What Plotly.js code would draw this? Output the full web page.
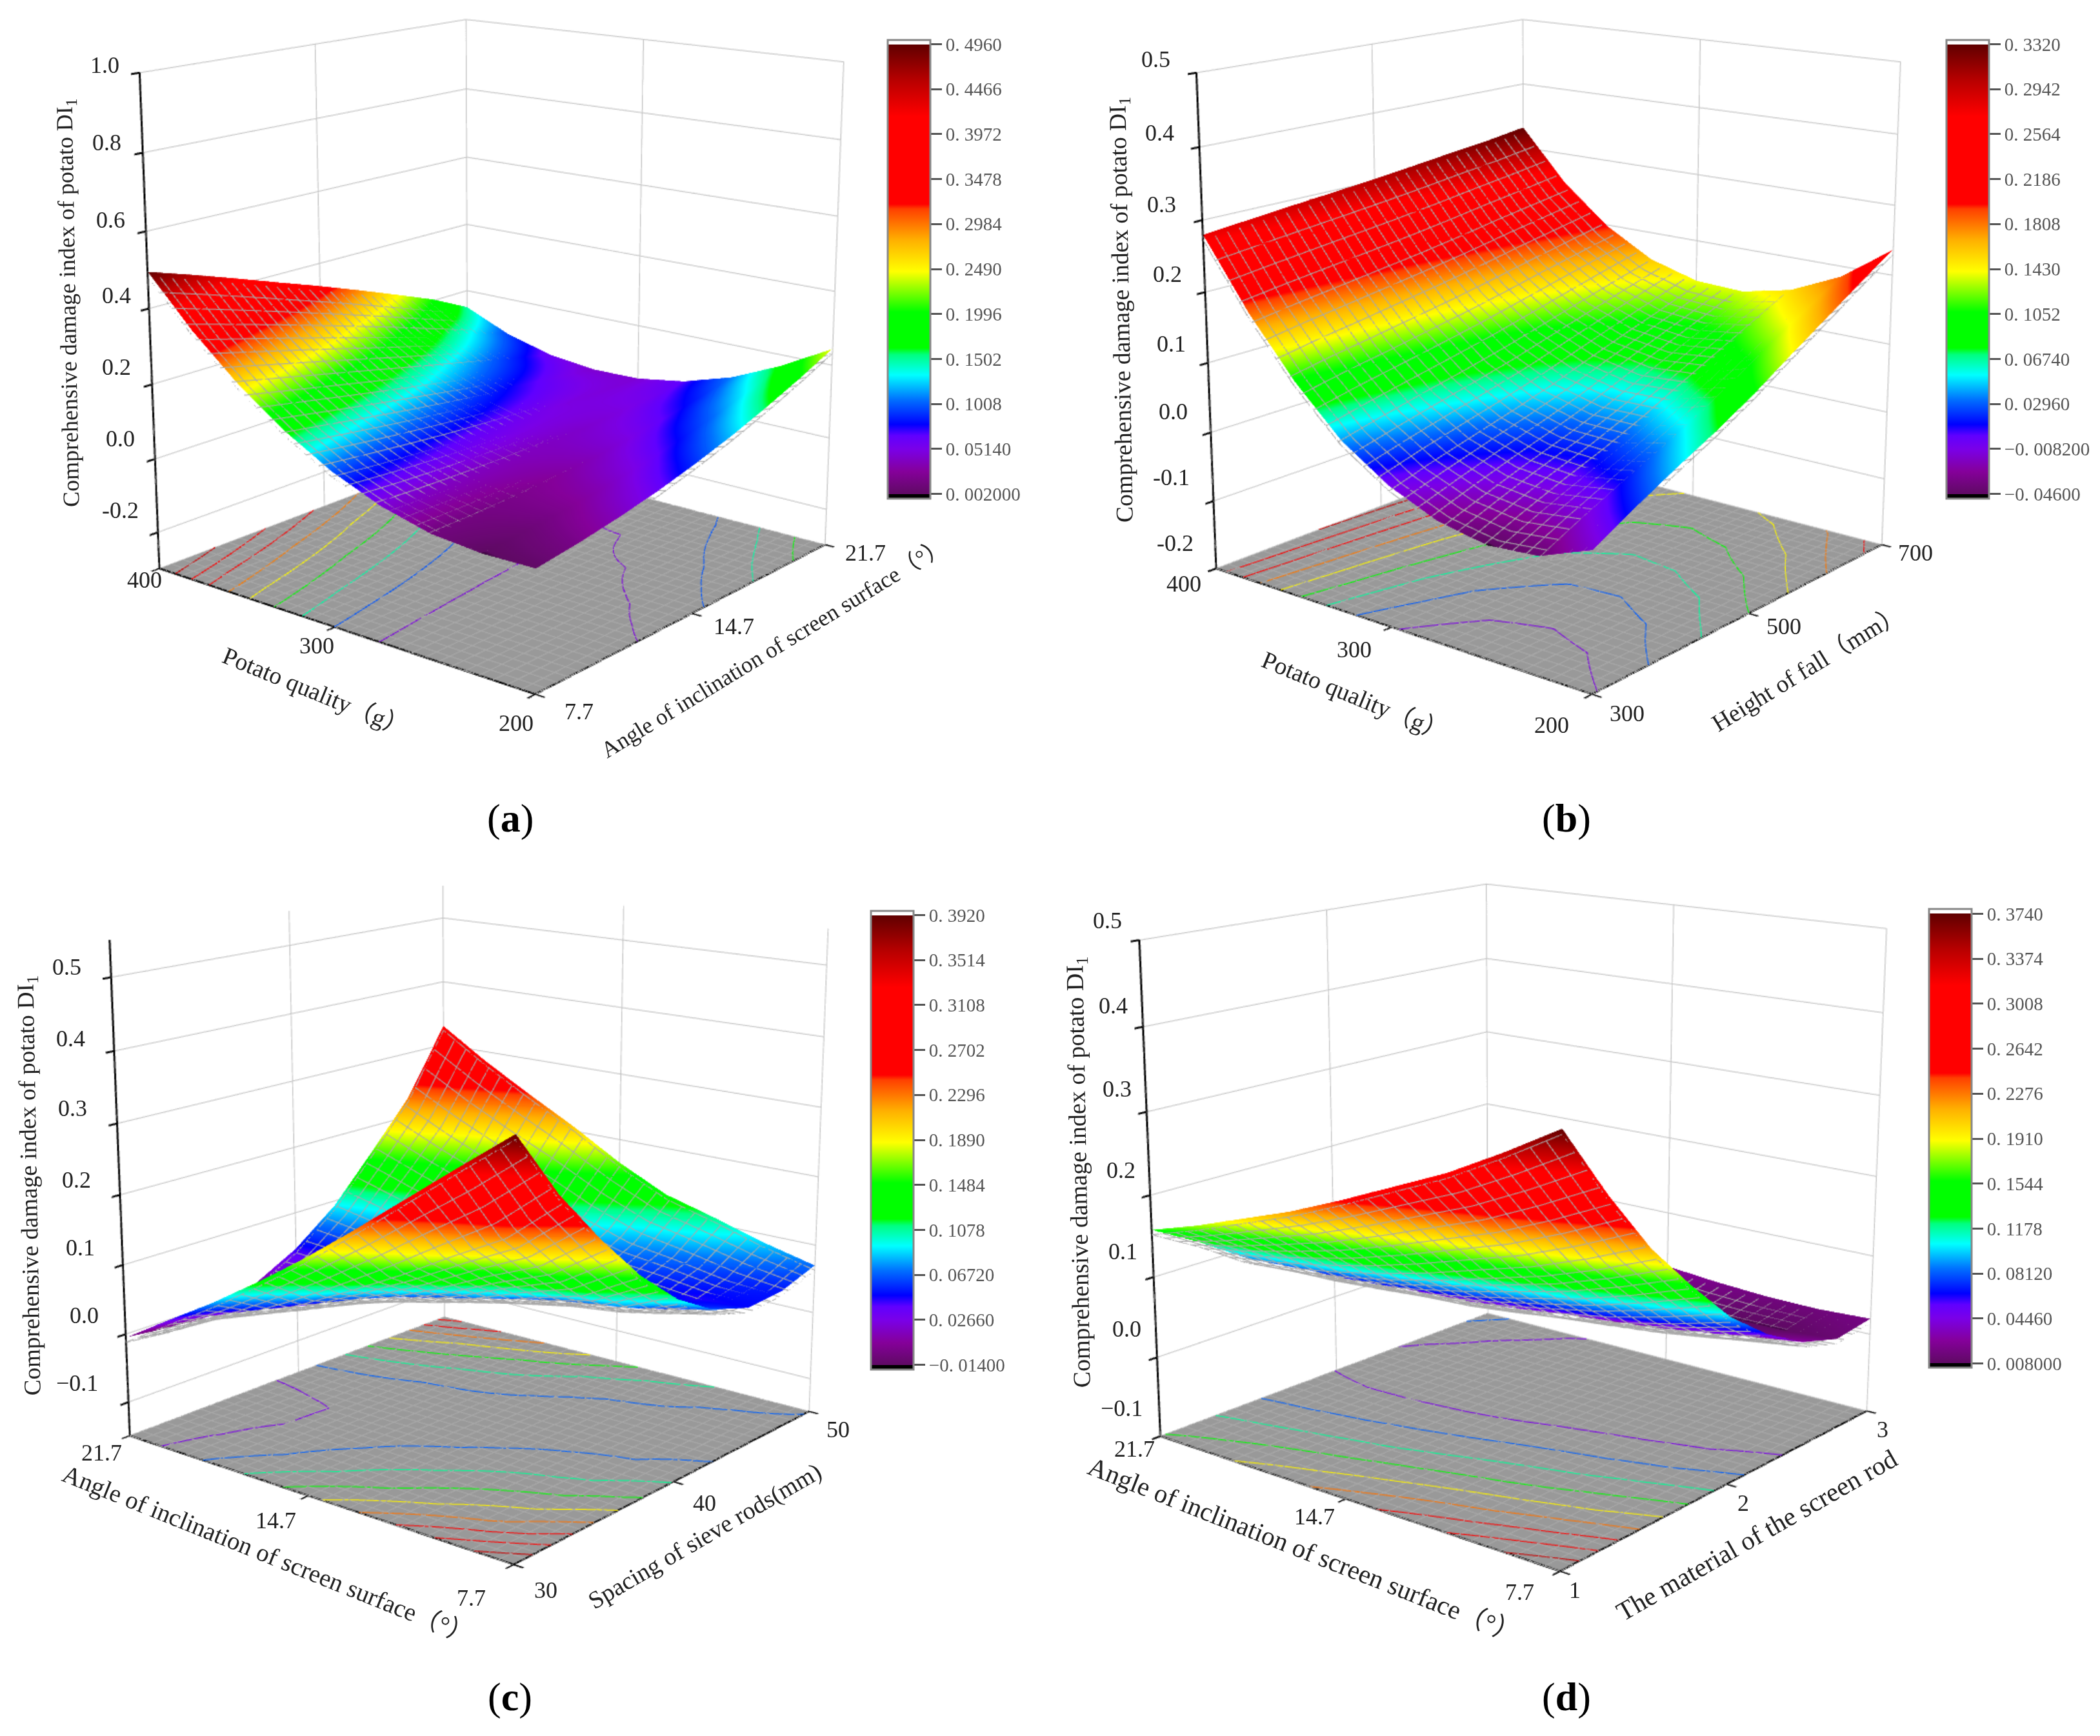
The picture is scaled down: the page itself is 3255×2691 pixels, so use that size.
<!DOCTYPE html>
<html>
<head>
<meta charset="utf-8">
<script src="https://cdn.plot.ly/plotly-3.0.1.min.js"></script>
<style>
html,body{margin:0;padding:0;background:#fff;width:3255px;height:2691px;overflow:hidden}
.panel{position:absolute;overflow:hidden;background:#fff}
.graph{position:absolute;transform-origin:0 0}
</style>
</head>
<body>
<script>
// ---------- axis values ----------
const potatoQuality = [200,225,250,275,300,325,350,375,400];
const screenAngle   = [7.7,9.45,11.2,12.95,14.7,16.45,18.2,19.95,21.7];
const fallHeight    = [300,350,400,450,500,550,600,650,700];
const rodSpacing    = [30,32.5,35,37.5,40,42.5,45,47.5,50];
const rodMaterial   = [1,1.25,1.5,1.75,2,2.25,2.5,2.75,3];

// ---------- surface values (rows follow the left-hand axis, columns the right-hand axis) ----------
const damageA = [
 [.005,.020,.039,.062,.090,.122,.159,.200,.245],
 [.003,.011,.023,.038,.057,.080,.106,.136,.170],
 [.015,.0165,.021,.028,.0385,.052,.068,.087,.109],
 [.048,.043,.040,.039,.0405,.044,.050,.058,.068],
 [.100,.088,.078,.069,.062,.056,.051,.049,.047],
 [.171,.153,.135,.118,.102,.087,.072,.058,.045],
 [.260,.235,.210,.185,.160,.135,.110,.085,.060],
 [.368,.336,.304,.271,.237,.203,.168,.132,.095],
 [.496,.458,.418,.377,.3365,.294,.250,.205,.150]];
const damageB = [
 [-.012,.019,.048,.075,.105,.139,.172,.205,.237],
 [-.040,-.012,.014,.039,.066,.096,.127,.156,.185],
 [-.046,-.021,.002,.023,.047,.074,.100,.126,.152],
 [-.033,-.012,.008,.026,.046,.069,.092,.114,.136],
 [-.004,.014,.030,.046,.063,.083,.102,.120,.139],
 [.040,.055,.069,.082,.096,.112,.128,.144,.159],
 [.105,.117,.127,.138,.149,.161,.174,.186,.198],
 [.185,.194,.202,.210,.218,.227,.237,.246,.255],
 [.280,.286,.292,.2975,.3035,.310,.317,.3235,.332]];
const damageC = [
 [.392,.300,.225,.158,.105,.069,.050,.053,.070],
 [.338,.240,.175,.118,.076,.0525,.0465,.060,.088],
 [.283,.200,.146,.0985,.067,.0515,.054,.0735,.110],
 [.228,.158,.113,.076,.053,.0465,.0585,.085,.130],
 [.175,.1195,.085,.0585,.0465,.051,.074,.1085,.165],
 [.126,.083,.059,.043,.044,.0605,.095,.139,.207],
 [.080,.049,.0335,.029,.041,.068,.113,.166,.245],
 [.038,.0236,.0165,.022,.0435,.0805,.136,.196,.285],
 [-.005,-.012,-.005,.012,.045,.093,.160,.230,.330]];
const damageD = [
 [.374,.290,.215,.155,.100,.060,.030,.014,.020],
 [.337,.259,.188,.1325,.082,.045,.021,.009,.017],
 [.303,.231,.165,.113,.067,.035,.015,.009,.018],
 [.275,.209,.147,.0985,.057,.028,.013,.0106,.022],
 [.247,.187,.129,.085,.0475,.0225,.0128,.015,.028],
 [.221,.167,.114,.0735,.0405,.0194,.0147,.021,.036],
 [.199,.151,.102,.065,.0374,.020,.0203,.031,.048],
 [.177,.1365,.093,.0605,.038,.0256,.032,.048,.068],
 [.158,.125,.087,.060,.044,.037,.050,.072,.095]];

// ---------- colour bar ticks ----------
const barValsA = [.002,.0514,.1008,.1502,.1996,.2490,.2984,.3478,.3972,.4466,.4960];
const barTextA = ['0. 002000','0. 05140','0. 1008','0. 1502','0. 1996','0. 2490','0. 2984','0. 3478','0. 3972','0. 4466','0. 4960'];
const barValsB = [-.046,-.0082,.0296,.0674,.1052,.1430,.1808,.2186,.2564,.2942,.3320];
const barTextB = ['−0. 04600','−0. 008200','0. 02960','0. 06740','0. 1052','0. 1430','0. 1808','0. 2186','0. 2564','0. 2942','0. 3320'];
const barValsC = [-.014,.0266,.0672,.1078,.1484,.1890,.2296,.2702,.3108,.3514,.3920];
const barTextC = ['−0. 01400','0. 02660','0. 06720','0. 1078','0. 1484','0. 1890','0. 2296','0. 2702','0. 3108','0. 3514','0. 3920'];
const barValsD = [.008,.0446,.0812,.1178,.1544,.1910,.2276,.2642,.3008,.3374,.3740];
const barTextD = ['0. 008000','0. 04460','0. 08120','0. 1178','0. 1544','0. 1910','0. 2276','0. 2642','0. 3008','0. 3374','0. 3740'];

// ---------- palette ----------
const paletteAt  = [0,.05,.10,.13,.155,.21,.265,.31,.325,.405,.495,.565,.634,.645,.84,.92,1];
const paletteHex = ['#5f0a64','#85009a','#7a00e8','#6000ff','#0000ff','#0070ff','#00ffff','#00ff80','#00ff00','#00ff00','#ffff00','#ffb000','#ff4000','#ff0000','#ff0000','#b80000','#600000'];
const sliver = .01;
function makeScale(){
  const s=[[0,'#000000'],[sliver/(1+2*sliver),'#000000']];
  paletteAt.forEach((f,i)=>s.push([(f+sliver+1e-4)/(1+2*sliver),paletteHex[i]]));
  s.push([(1+sliver+2e-4)/(1+2*sliver),'#ffffff'],[1,'#ffffff']);
  return s;
}

const SERIF = '"Liberation Serif","Noto Sans CJK SC",serif';
const K = 3;            // the graph is laid out at 1/K and enlarged by CSS
const G = 3000;
const EYE = {x:-3.52,y:-2.88,z:1.22};
const ZTITLE = 'Comprehensive damage index of potato DI<sub>1</sub>';

const panels = [
 {id:'a',rect:[0,0,1650,1340],centre:[770,494],bar:[1376,417,710],
  xs:screenAngle,ys:potatoQuality,zs:damageA,zr:[-.3,1],zt:[-.2,0,.2,.4,.6,.8,1],vals:barValsA,text:barTextA,
  xt:[7.7,14.7,21.7],yt:[200,300,400],
  labels:[['1.0',163,101],['0.8',165,221],['0.6',172,340],['0.4',179,458],['0.2',181,570],['0.0',187,681],['-0.2',187,792],
          ['400',223,898],['300',490,1001],['200',800,1121],['7.7',898,1103],['14.7',1136,970],['21.7',1342,856]],
  titles:[['Potato quality（g）',489,1074,22.2,38],['Angle of inclination of screen surface（°）',1200,1005,-31.4,35.5],[ZTITLE,108,470,-91,36]],
  tag:['a',791,1268],asp:.98},
 {id:'b',rect:[1650,0,1605,1340],centre:[2408,494],bar:[3018,417,710],
  xs:fallHeight,ys:potatoQuality,zs:damageB,zr:[-.2,.5],zt:[-.2,-.1,0,.1,.2,.3,.4,.5],vals:barValsB,text:barTextB,
  xt:[300,500,700],yt:[200,300,400],
  labels:[['0.5',1791,93],['0.4',1796,207],['0.3',1801,318],['0.2',1809,426],['0.1',1814,533],['0.0',1819,638],['-0.1',1816,740],['-0.2',1822,841],
          ['400',1836,904],['300',2100,1006],['200',2405,1123],['300',2523,1105],['500',2764,970],['700',2970,858]],
  titles:[['Potato quality（g）',2098,1080,22.3,38],['Height of fall（mm）',2801,1038,-31.5,38],[ZTITLE,1742,480,-91,37.5]],
  tag:['b',2428,1268],asp:.98},
 {id:'c',rect:[0,1340,1650,1351],centre:[735,1838],bar:[1349,1767,710],
  xs:rodSpacing,ys:screenAngle,zs:damageC,zr:[-.15,.55],zt:[-.1,0,.1,.2,.3,.4,.5],vals:barValsC,text:barTextC,
  xt:[30,40,50],yt:[7.7,14.7,21.7],
  labels:[['0.5',102,1498],['0.4',108,1610],['0.3',113,1719],['0.2',119,1829],['0.1',123,1935],['0.0',129,2040],['−0.1',121,2143],
          ['21.7',158,2253],['14.7',426,2357],['7.7',731,2476],['30',847,2466],['40',1092,2329],['50',1300,2215]],
  titles:[['Angle of inclination of screen surface（°）',416,2408,21.9,39],['Spacing of sieve rods(mm)',1094,2382,-30.2,38],[ZTITLE,47,1837,-91,37]],
  tag:['c',791,2632],asp:1},
 {id:'d',rect:[1650,1340,1605,1351],centre:[2354,1838],bar:[2991,1765,710],
  xs:rodMaterial,ys:screenAngle,zs:damageD,zr:[-.1,.5],zt:[-.1,0,.1,.2,.3,.4,.5],vals:barValsD,text:barTextD,
  xt:[1,2,3],yt:[7.7,14.7,21.7],
  labels:[['0.5',1717,1426],['0.4',1724,1560],['0.3',1730,1689],['0.2',1737,1814],['0.1',1740,1939],['0.0',1747,2061],['−0.1',1740,2182],
          ['21.7',1757,2247],['14.7',2037,2350],['7.7',2356,2467],['1',2440,2466],['2',2701,2331],['3',2919,2215]],
  titles:[['Angle of inclination of screen surface（°）',2023,2402,21.6,41],['The material of the screen rod',2724,2380,-29.7,41],[ZTITLE,1676,1818,-91,38]],
  tag:['d',2428,2632],asp:1.04}
];

function axis(range,tickvals,bg){
  return {range,tickvals,autorange:false,showticklabels:false,ticks:'outside',ticklen:14/K,tickwidth:2,tickcolor:'#000',
    showline:true,linecolor:'#000',linewidth:2,showgrid:true,gridcolor:'#c4c4c4',gridwidth:1,zeroline:false,showspikes:false,
    showbackground:true,backgroundcolor:bg,title:{text:''}};
}

panels.forEach(p=>{
  const wrap=document.createElement('div');
  wrap.className='panel';
  wrap.style.cssText=`left:${p.rect[0]}px;top:${p.rect[1]}px;width:${p.rect[2]}px;height:${p.rect[3]}px`;
  const gd=document.createElement('div');
  gd.className='graph';
  const left=p.centre[0]-G/2, top=p.centre[1]-G/2;
  gd.style.cssText=`left:${left-p.rect[0]}px;top:${top-p.rect[1]}px;width:${G/K}px;height:${G/K}px;transform:scale(${K})`;
  wrap.appendChild(gd);document.body.appendChild(wrap);
  const X=px=>(px-left)/G, Y=py=>1-(py-top)/G;

  const lo=p.vals[0],hi=p.vals[p.vals.length-1],d=(hi-lo)*sliver;
  const xMin=p.xs[0],xMax=p.xs[p.xs.length-1],yMin=p.ys[0],yMax=p.ys[p.ys.length-1];
  const flat={ambient:1,diffuse:0,specular:0,roughness:1,fresnel:0};
  const surface={type:'surface',x:p.xs,y:p.ys,z:p.zs,cmin:lo-d,cmax:hi+d,colorscale:makeScale(),hoverinfo:'skip',lighting:flat,
    contours:{
      x:{show:false},y:{show:false},
      z:{show:true,start:p.vals[1],end:p.vals[10],size:p.vals[1]-p.vals[0],usecolormap:true,width:3,highlight:false,project:{z:true}}
    },
    colorbar:{tickmode:'array',tickvals:p.vals,ticktext:p.text,x:X(p.bar[0]),xanchor:'left',y:Y(p.bar[1]),yanchor:'middle',
      xpad:0,ypad:0,thickness:65/K,thicknessmode:'pixels',len:p.bar[2]/K,lenmode:'pixels',outlinewidth:1,outlinecolor:'#888',
      ticks:'outside',ticklen:18/K,tickwidth:1,tickcolor:'#555',tickfont:{family:SERIF,size:29/K,color:'#555'}}
  };
  // fine mesh on the floor: lines only, a little below the surface so that the surface hides them, projected down
  const drop=(p.zr[1]-p.zr[0])*.01;
  const floorMesh={type:'surface',x:p.xs,y:p.ys,z:p.zs.map(r=>r.map(v=>v-drop)),cmin:lo-d,cmax:hi+d,colorscale:makeScale(),hoverinfo:'skip',lighting:flat,
    showscale:false,hidesurface:true,
    contours:{
      x:{show:true,start:xMin,end:xMax,size:(xMax-xMin)/30,color:'#a9a9a9',width:1,highlight:false},
      y:{show:true,start:yMin,end:yMax,size:(yMax-yMin)/30,color:'#a9a9a9',width:1,highlight:false},
      z:{show:true,start:10,end:11,size:1,color:'#a9a9a9',width:1,highlight:false,project:{x:true,y:true}}
    }
  };
  const anns=[];
  p.labels.forEach(l=>anns.push({text:l[0],x:X(l[1]),y:Y(l[2]),xref:'paper',yref:'paper',showarrow:false,xanchor:'center',yanchor:'middle',font:{family:SERIF,size:36/K,color:'#222'}}));
  p.titles.forEach(t=>anns.push({text:t[0],x:X(t[1]),y:Y(t[2]),xref:'paper',yref:'paper',showarrow:false,xanchor:'center',yanchor:'middle',textangle:t[3],font:{family:SERIF,size:t[4]/K,color:'#222'}}));
  anns.push({text:'(<b>'+p.tag[0]+'</b>)',x:X(p.tag[1]),y:Y(p.tag[2]),xref:'paper',yref:'paper',showarrow:false,xanchor:'center',yanchor:'middle',font:{family:SERIF,size:62/K,color:'#000'}});

  Plotly.newPlot(gd,[surface,floorMesh],{
    width:G/K,height:G/K,margin:{l:0,r:0,t:0,b:0},paper_bgcolor:'rgba(0,0,0,0)',showlegend:false,annotations:anns,
    scene:{domain:{x:[0,1],y:[0,1]},bgcolor:'rgba(0,0,0,0)',aspectmode:'manual',aspectratio:{x:p.asp,y:p.asp,z:1.02},
      camera:{eye:EYE,up:{x:0,y:0,z:1},center:{x:0,y:0,z:0},projection:{type:'perspective'}},
      xaxis:axis([xMin,xMax],p.xt,'#ffffff'),yaxis:axis([yMin,yMax],p.yt,'#ffffff'),zaxis:axis(p.zr,p.zt,'#999999')}
  },{displayModeBar:false,responsive:false});
});
</script>
</body>
</html>
